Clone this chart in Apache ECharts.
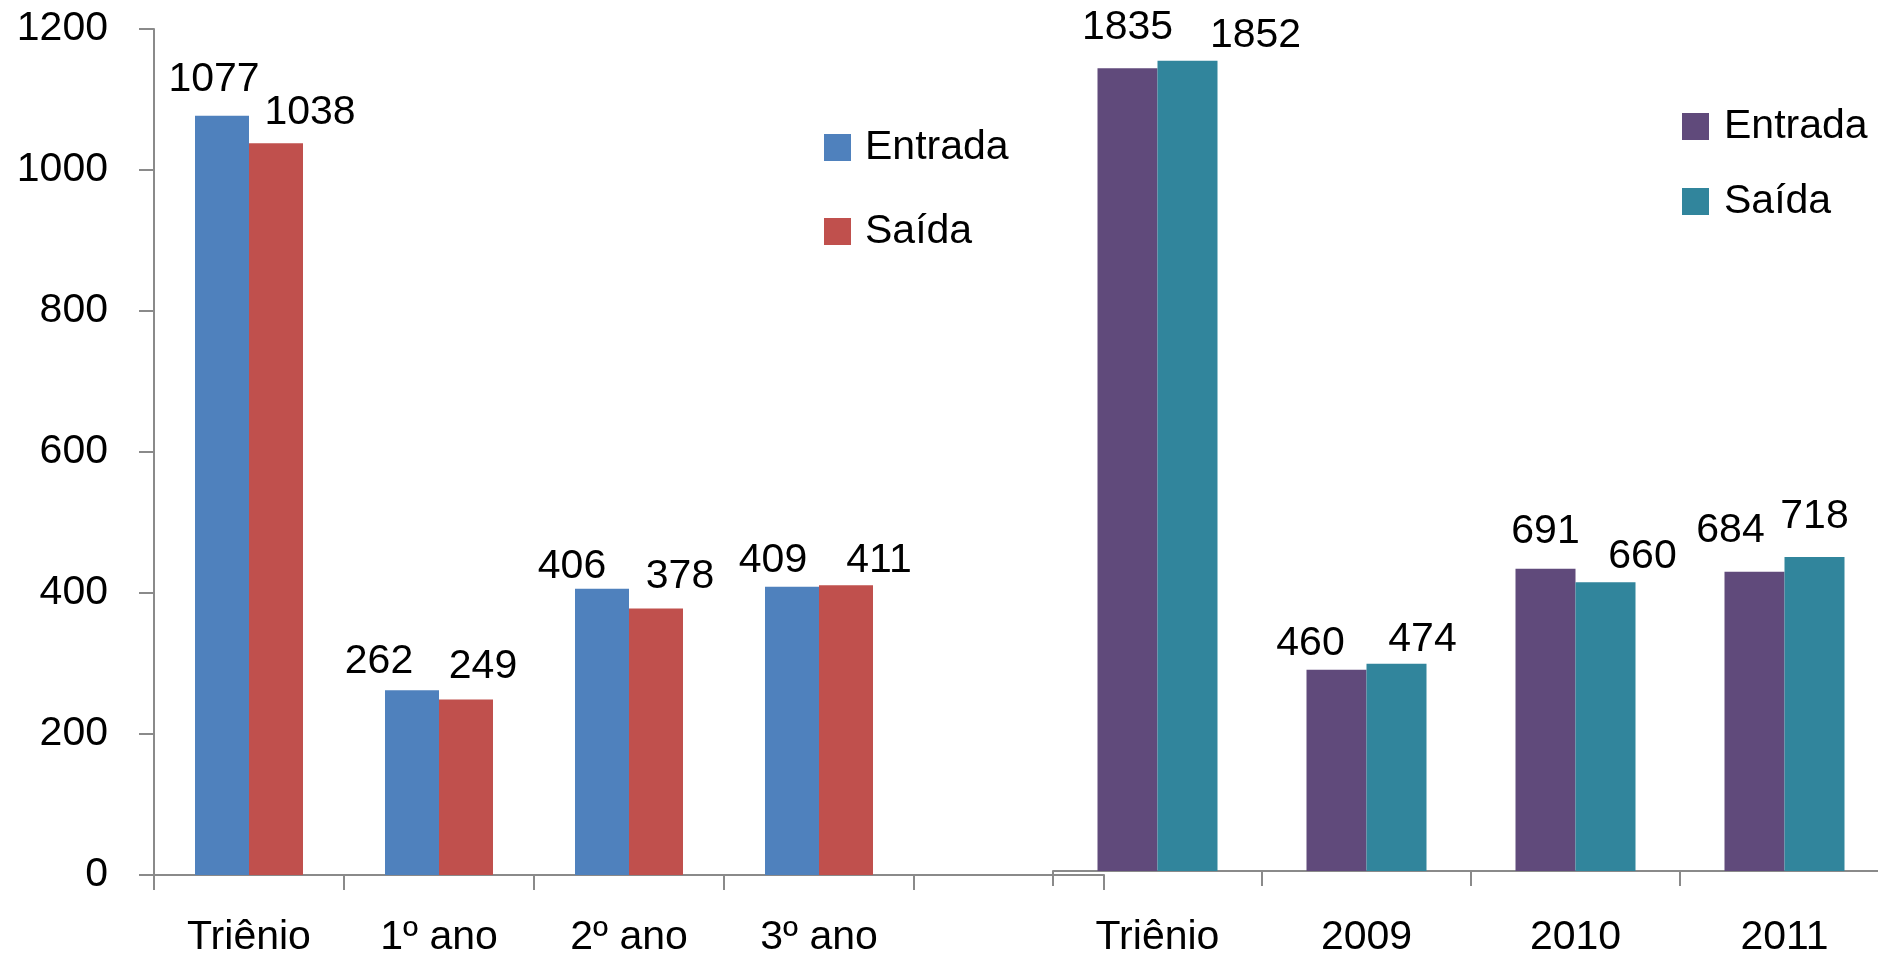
<!DOCTYPE html>
<html>
<head>
<meta charset="utf-8">
<script src="https://cdn.jsdelivr.net/npm/echarts@6/dist/echarts.min.js"></script>
<style>
html,body{margin:0;padding:0;background:#fff;overflow:hidden;width:1878px;height:958px;}
#chart{width:1889px;height:958px;}
</style>
</head>
<body>
<div id="chart"></div>
<script>
// ---- data ----
const leftCategories = ['Triênio', '1º ano', '2º ano', '3º ano', ''];
const leftEntrada = [1077, 262, 406, 409, null];
const leftSaida = [1038, 249, 378, 411, null];
const rightCategories = ['Triênio', '2009', '2010', '2011'];
const rightEntrada = [1835, 460, 691, 684];
const rightSaida = [1852, 474, 660, 718];
const yTicks = [0, 200, 400, 600, 800, 1000, 1200];

// ---- label placement (style, not data) ----
const leftEntradaDx = [-8, -33, -30, -19];
const leftEntradaGap = [22, 14, 8, 11];
const leftSaidaDx = [34, 17, 24, 33];
const leftSaidaGap = [16, 18, 17, 10];
const rightEntradaDx = [0, -26, 0, -24];
const rightEntradaGap = [26, 12, 23, 27];
const rightSaidaDx = [68, 26, 37, 0];
const rightSaidaGap = [11, 9, 11, 26];

const FONT = 'Liberation Sans';
const FS = 41;
const AXIS = '#8a8a8a';

function items(vals, dx, gap) {
  return vals.map((v, i) => {
    if (v === null) return '-';
    return {
      value: v,
      label: { offset: [dx[i], 0], distance: gap[i] - 6 }
    };
  });
}

const chart = echarts.init(document.getElementById('chart'));
const labelBase = {
  show: true, position: 'top', color: '#000',
  fontFamily: FONT, fontSize: FS
};

chart.setOption({
  animation: false,
  backgroundColor: '#fff',
  textStyle: { fontFamily: FONT },
  grid: [
    { left: 154, top: 29, width: 950, bottom: 81, containLabel: false },
    { left: 1053, top: 0, right: 0, bottom: 85, containLabel: false }
  ],
  xAxis: [
    {
      gridIndex: 0, type: 'category', data: leftCategories,
      axisLine: { lineStyle: { color: AXIS, width: 2 } },
      axisTick: { show: true, length: 15, lineStyle: { color: AXIS, width: 2 } },
      axisLabel: { color: '#000', fontFamily: FONT, fontSize: FS, margin: 42, interval: 0 }
    },
    {
      gridIndex: 1, type: 'category', data: rightCategories,
      axisLine: { lineStyle: { color: AXIS, width: 2 } },
      axisTick: { show: true, length: 15, lineStyle: { color: AXIS, width: 2 } },
      axisLabel: { color: '#000', fontFamily: FONT, fontSize: FS, margin: 46, interval: 0 }
    }
  ],
  yAxis: [
    {
      gridIndex: 0, type: 'value', min: yTicks[0], max: yTicks[yTicks.length - 1], interval: 200,
      axisLine: { show: true, lineStyle: { color: AXIS, width: 2 } },
      axisTick: { show: true, length: 15, lineStyle: { color: AXIS, width: 2 } },
      splitLine: { show: false },
      axisLabel: { color: '#000', fontFamily: FONT, fontSize: FS, margin: 46, formatter: v => String(v) }
    },
    {
      gridIndex: 1, type: 'value', min: 0, max: 1991, show: false,
      splitLine: { show: false }
    }
  ],
  legend: [
    {
      orient: 'vertical', left: 824, top: 127, padding: 0,
      itemWidth: 27, itemHeight: 27, itemGap: 43, icon: 'rect',
      data: ['Entrada', 'Saída'],
      textStyle: { color: '#000', fontFamily: FONT, fontSize: FS, lineHeight: 40, padding: [0, 0, 0, 9] }
    },
    {
      orient: 'vertical', left: 1682, top: 106, padding: 0,
      itemWidth: 27, itemHeight: 27, itemGap: 34, icon: 'rect',
      data: ['Entrada|R', 'Saída|R'],
      formatter: n => n.split('|')[0],
      textStyle: { color: '#000', fontFamily: FONT, fontSize: FS, lineHeight: 40, padding: [0, 0, 0, 10] }
    }
  ],
  series: [
    {
      name: 'Entrada', type: 'bar', xAxisIndex: 0, yAxisIndex: 0,
      barWidth: 54, barGap: '0%',
      itemStyle: { color: '#4F81BD' },
      label: labelBase,
      data: items(leftEntrada, leftEntradaDx, leftEntradaGap)
    },
    {
      name: 'Saída', type: 'bar', xAxisIndex: 0, yAxisIndex: 0,
      barWidth: 54, barGap: '0%',
      itemStyle: { color: '#C0504D' },
      label: labelBase,
      data: items(leftSaida, leftSaidaDx, leftSaidaGap)
    },
    {
      name: 'Entrada|R', type: 'bar', xAxisIndex: 1, yAxisIndex: 1,
      barWidth: 60, barGap: '0%',
      itemStyle: { color: '#604A7B' },
      label: labelBase,
      data: items(rightEntrada, rightEntradaDx, rightEntradaGap)
    },
    {
      name: 'Saída|R', type: 'bar', xAxisIndex: 1, yAxisIndex: 1,
      barWidth: 60, barGap: '0%',
      itemStyle: { color: '#31859C' },
      label: labelBase,
      data: items(rightSaida, rightSaidaDx, rightSaidaGap)
    }
  ]
});
</script>
</body>
</html>
